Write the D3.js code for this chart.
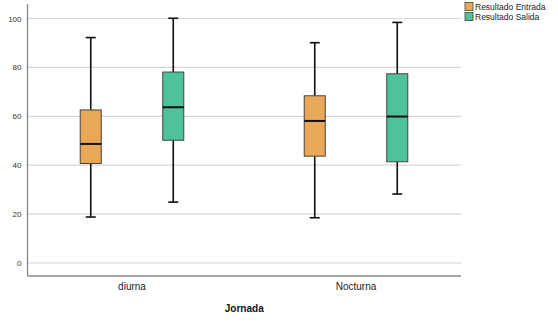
<!DOCTYPE html>
<html><head><meta charset="utf-8">
<script src="https://cdn.jsdelivr.net/npm/d3@7"></script>
<style>body{margin:0;background:#fff}svg{display:block;font-family:"Liberation Sans",Arial,sans-serif}</style>
</head><body>
<svg id="c" width="558" height="322"></svg>
<script>
const categories = ["diurna", "Nocturna"];
const seriesNames = ["Resultado Entrada", "Resultado Salida"];
const seriesColors = ["#E8A857", "#4DC29C"];
// [min, q1, median, q3, max] per category
const entrada = [[18.8, 40.7, 48.7, 62.6, 92.2], [18.5, 43.7, 58.1, 68.4, 90.1]];
const salida  = [[24.9, 50.2, 63.7, 78.1, 100.1], [28.2, 41.4, 59.9, 77.4, 98.4]];
const yTicks = [0, 20, 40, 60, 80, 100];
const xTitle = "Jornada";

const svg = d3.select("#c");
const pLeft = 27.5, pRight = 461, pTop = 4, pBottom = 276;
const y = d3.scaleLinear().domain([0, 100]).range([263, 18.5]);
const x = d3.scaleBand().domain(categories).range([20, 468]);
const xs = d3.scaleBand().domain(seriesNames).range([0, x.bandwidth()]).paddingInner(0.745).paddingOuter(0.73);

// gridlines
svg.append("g").selectAll("line").data(yTicks).join("line")
  .attr("x1", pLeft).attr("x2", pRight)
  .attr("y1", d => y(d)).attr("y2", d => y(d))
  .attr("stroke", "#d6d6d6").attr("stroke-width", 1.2);

// y axis
const ya = svg.append("g").attr("transform", `translate(${pLeft},0)`)
  .call(d3.axisLeft(y).tickValues(yTicks).tickSize(0).tickPadding(6));
ya.select(".domain").remove();
ya.selectAll("text").attr("font-size", 8).attr("fill", "#333");
svg.append("line").attr("x1", pLeft).attr("x2", pLeft).attr("y1", pTop).attr("y2", pBottom)
  .attr("stroke", "#888").attr("stroke-width", 1.3);
// x axis
const xa = svg.append("g").attr("transform", `translate(0,${pBottom})`)
  .call(d3.axisBottom(x).tickSize(0).tickPadding(7));
xa.select(".domain").remove();
xa.selectAll("text").attr("font-size", 10).attr("fill", "#222");
svg.append("line").attr("x1", pLeft).attr("x2", pRight).attr("y1", pBottom).attr("y2", pBottom)
  .attr("stroke", "#888").attr("stroke-width", 1.3);

svg.append("text").attr("x", (pLeft + pRight) / 2).attr("y", 312).attr("text-anchor", "middle")
  .attr("font-size", 10).attr("font-weight", "bold").attr("fill", "#111").text(xTitle);

// boxes
const data = [];
categories.forEach((c, i) => {
  [entrada, salida].forEach((s, j) => data.push({cat: c, ser: seriesNames[j], col: seriesColors[j], v: s[i]}));
});
const g = svg.append("g");
data.forEach(d => {
  const bw = xs.bandwidth();
  const x0 = x(d.cat) + xs(d.ser);
  const cx = x0 + bw / 2;
  const [mn, q1, md, q3, mx] = d.v;
  const gg = g.append("g");
  gg.append("line").attr("x1", cx).attr("x2", cx).attr("y1", y(mx)).attr("y2", y(q3)).attr("stroke", "#111").attr("stroke-width", 1.6);
  gg.append("line").attr("x1", cx).attr("x2", cx).attr("y1", y(q1)).attr("y2", y(mn)).attr("stroke", "#111").attr("stroke-width", 1.6);
  [mn, mx].forEach(v => gg.append("line").attr("x1", cx - 5).attr("x2", cx + 5).attr("y1", y(v)).attr("y2", y(v)).attr("stroke", "#111").attr("stroke-width", 1.6));
  gg.append("rect").attr("x", x0).attr("y", y(q3)).attr("width", bw).attr("height", y(q1) - y(q3))
    .attr("fill", d.col).attr("stroke", "#444").attr("stroke-width", 1);
  gg.append("line").attr("x1", x0).attr("x2", x0 + bw).attr("y1", y(md)).attr("y2", y(md)).attr("stroke", "#111").attr("stroke-width", 2);
});

// legend
const lg = svg.append("g").attr("transform", "translate(465,2)");
seriesNames.forEach((s, i) => {
  lg.append("rect").attr("x", 0).attr("y", i * 10 + 0.5).attr("width", 8).attr("height", 8)
    .attr("fill", seriesColors[i]).attr("stroke", "#444").attr("stroke-width", 0.8);
  lg.append("text").attr("x", 10).attr("y", i * 10 + 8).attr("font-size", 8.5).attr("fill", "#222").text(s);
});
</script>
</body></html>
